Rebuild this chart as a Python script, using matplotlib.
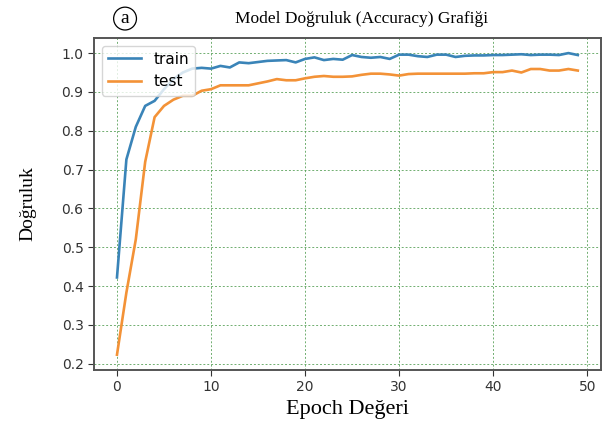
import matplotlib
matplotlib.use("Agg")
import matplotlib.pyplot as plt

# accuracy per epoch
epochs = list(range(50))
train = [0.422, 0.726, 0.810, 0.864, 0.877, 0.907, 0.933, 0.950, 0.960, 0.962,
         0.960, 0.967, 0.963, 0.976, 0.974, 0.977, 0.980, 0.981, 0.982, 0.976,
         0.985, 0.989, 0.982, 0.985, 0.983, 0.995, 0.990, 0.988, 0.990, 0.985,
         0.996, 0.996, 0.992, 0.990, 0.996, 0.996, 0.990, 0.993, 0.994, 0.994,
         0.995, 0.995, 0.996, 0.997, 0.995, 0.996, 0.996, 0.995, 1.000, 0.995]
test = [0.223, 0.383, 0.520, 0.720, 0.835, 0.864, 0.880, 0.890, 0.890, 0.903,
        0.907, 0.917, 0.917, 0.917, 0.917, 0.922, 0.927, 0.933, 0.930, 0.930,
        0.935, 0.939, 0.941, 0.939, 0.939, 0.940, 0.944, 0.947, 0.947, 0.945,
        0.942, 0.946, 0.947, 0.947, 0.947, 0.947, 0.947, 0.947, 0.948, 0.948,
        0.951, 0.951, 0.955, 0.950, 0.959, 0.959, 0.955, 0.955, 0.959, 0.955]

fig = plt.figure(figsize=(6.1, 4.32), dpi=100)
ax = fig.add_axes([0.154, 0.144, 0.831, 0.768])

ax.plot(epochs, train, color="#3a84b8", lw=1.9, label="train")
ax.plot(epochs, test, color="#f39237", lw=1.9, label="test")

ax.grid(True, color="#4c9a4c", linestyle=(0, (2, 2)), linewidth=0.7, alpha=0.8)
for s in ax.spines.values():
    s.set_color("#555555")
    s.set_linewidth(1.4)
ax.tick_params(colors="#333333", labelsize=10, length=4)
ax.set_xticks([0, 10, 20, 30, 40, 50])
ax.set_yticks([0.2, 0.3, 0.4, 0.5, 0.6, 0.7, 0.8, 0.9, 1.0])

ax.legend(loc="upper left", fontsize=11, borderaxespad=0.5, handlelength=2.2)

serif = "Liberation Serif"
fig.text(0.592, 0.955, "Model Doğruluk (Accuracy) Grafiği", family=serif,
         fontsize=12.5, ha="center", va="center")
ax.set_xlabel("Epoch Değeri", family=serif, fontsize=16, labelpad=4)
ax.set_ylabel("Doğruluk", family=serif, fontsize=14, labelpad=18)
fig.text(0.205, 0.957, "a", family=serif, fontsize=14, ha="center", va="center",
         bbox=dict(boxstyle="circle,pad=0.15", fc="none", ec="black", lw=0.9))

fig.savefig("out.png", dpi=100)
